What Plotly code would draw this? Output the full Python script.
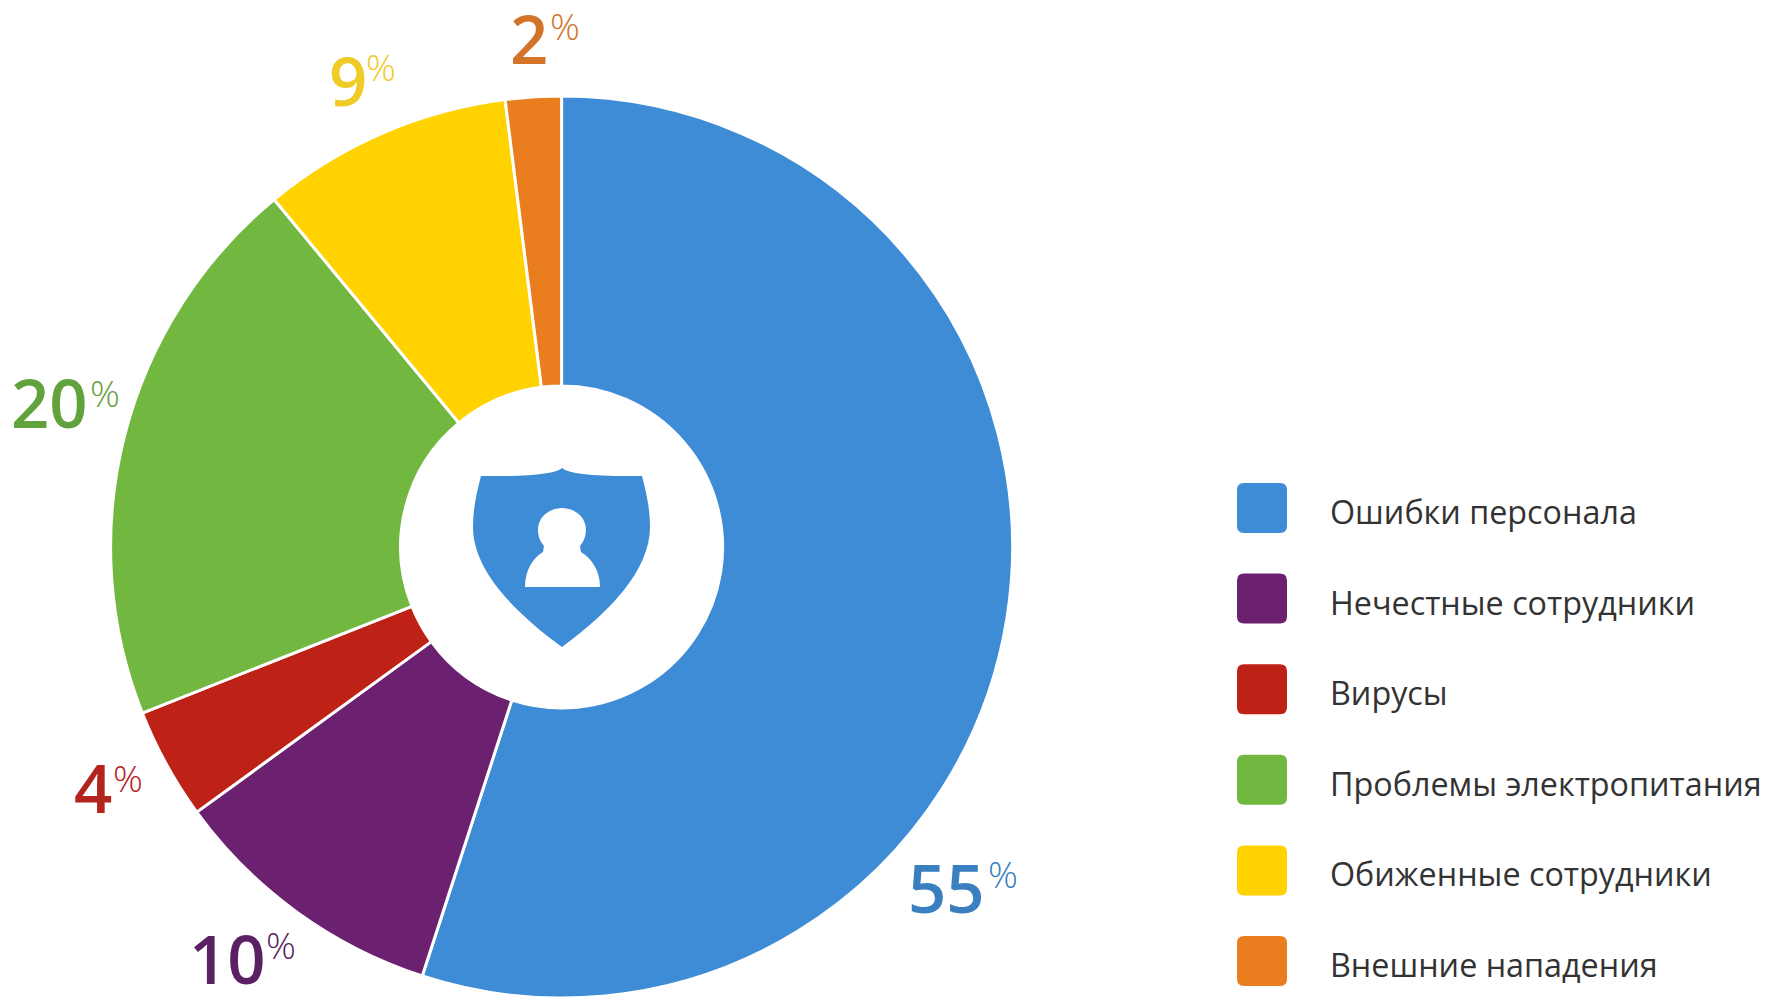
import plotly.graph_objects as go

# data
categories = ["Ошибки персонала", "Нечестные сотрудники", "Вирусы",
              "Проблемы электропитания", "Обиженные сотрудники", "Внешние нападения"]
shares = [55, 10, 4, 20, 9, 2]
slice_colors = ["#3E8BD6", "#6C2070", "#BE2115", "#72B73F", "#FFD200", "#EA7D1D"]
label_colors = ["#3A7FBF", "#5B1F63", "#B3241E", "#62A23C", "#F0CB28", "#D2742A"]

W, H = 1773, 1000

# pixel positions of the hand placed labels
number_pos = [(947, 887), (227, 958), (93, 787), (49, 402), (348, 80), (529, 38)]
percent_pos = [(1003, 873), (281, 944), (128, 777), (105, 392), (381, 67), (565, 25)]

# legend layout
legend_x = 1237
legend_y = 483
legend_step = 90.6
swatch = 50
legend_text_x = 1328


def px(x):
    return x / W


def py(y):
    return 1 - y / H


def pt(x, y):
    return f"{px(x):.5f},{py(y):.5f}"


def rounded_box(x, y, w, h, r):
    # rounded square drawn as a path, in pixels
    return (f"M{pt(x + r, y)} L{pt(x + w - r, y)} Q{pt(x + w, y)} {pt(x + w, y + r)} "
            f"L{pt(x + w, y + h - r)} Q{pt(x + w, y + h)} {pt(x + w - r, y + h)} "
            f"L{pt(x + r, y + h)} Q{pt(x, y + h)} {pt(x, y + h - r)} "
            f"L{pt(x, y + r)} Q{pt(x, y)} {pt(x + r, y)} Z")


fig = go.Figure()

fig.add_trace(go.Pie(
    labels=categories,
    values=shares,
    sort=False,
    direction="clockwise",
    rotation=0,
    hole=0.357,
    marker=dict(colors=slice_colors, line=dict(color="white", width=3)),
    textinfo="none",
    hoverinfo="label+percent",
    showlegend=False,
    domain=dict(x=[px(110.6), px(1012.6)], y=[py(998), py(96)]),
))

shapes = []

# shield in the middle of the donut
shield = (f"M{pt(562, 468)} Q{pt(572, 477)} {pt(642, 476)} "
          f"C{pt(647, 495)} {pt(650, 510)} {pt(650, 527)} "
          f"C{pt(650, 570)} {pt(610, 612)} {pt(562, 647)} "
          f"C{pt(514, 612)} {pt(473, 570)} {pt(473, 527)} "
          f"C{pt(473, 510)} {pt(476, 495)} {pt(481, 476)} "
          f"Q{pt(552, 477)} {pt(562, 468)} Z")
shapes.append(dict(type="path", path=shield, xref="paper", yref="paper",
                   fillcolor=slice_colors[0], line=dict(width=0)))

person = (f"M{pt(525, 587)} C{pt(525, 570)} {pt(533, 558)} {pt(543, 552)} "
          f"L{pt(544, 546)} C{pt(532, 532)} {pt(538, 509)} {pt(562, 508)} "
          f"C{pt(586, 509)} {pt(592, 532)} {pt(580, 546)} "
          f"L{pt(581, 552)} C{pt(591, 558)} {pt(600, 570)} {pt(600, 587)} Z")
shapes.append(dict(type="path", path=person, xref="paper", yref="paper",
                   fillcolor="white", line=dict(width=0)))

annotations = []

# legend: rounded squares and text
for i, name in enumerate(categories):
    top = legend_y + i * legend_step
    shapes.append(dict(type="path", path=rounded_box(legend_x, top, swatch, swatch, 7),
                       xref="paper", yref="paper",
                       fillcolor=slice_colors[i], line=dict(width=0)))
    annotations.append(dict(
        text=name, x=px(legend_text_x), y=py(top + swatch / 2 + 3),
        xref="paper", yref="paper", xanchor="left", yanchor="middle",
        showarrow=False, font=dict(family="Open Sans", size=32.3, color="#333333")))

# value labels, big number with a small percent sign
for i, v in enumerate(shares):
    annotations.append(dict(
        text=str(v), x=px(number_pos[i][0]), y=py(number_pos[i][1]),
        xref="paper", yref="paper", xanchor="center", yanchor="middle",
        showarrow=False,
        font=dict(family="Open Sans", size=67, weight=600, color=label_colors[i])))
    annotations.append(dict(
        text="%", x=px(percent_pos[i][0]), y=py(percent_pos[i][1]),
        xref="paper", yref="paper", xanchor="center", yanchor="middle",
        showarrow=False,
        font=dict(family="Open Sans", size=37, weight=300, color=label_colors[i])))

fig.update_layout(
    width=W,
    height=H,
    margin=dict(l=0, r=0, t=0, b=0),
    paper_bgcolor="white",
    plot_bgcolor="white",
    shapes=shapes,
    annotations=annotations,
)

fig.write_html("out.html", config=dict(displayModeBar=False),
               post_script="document.body.style.margin='0';")
